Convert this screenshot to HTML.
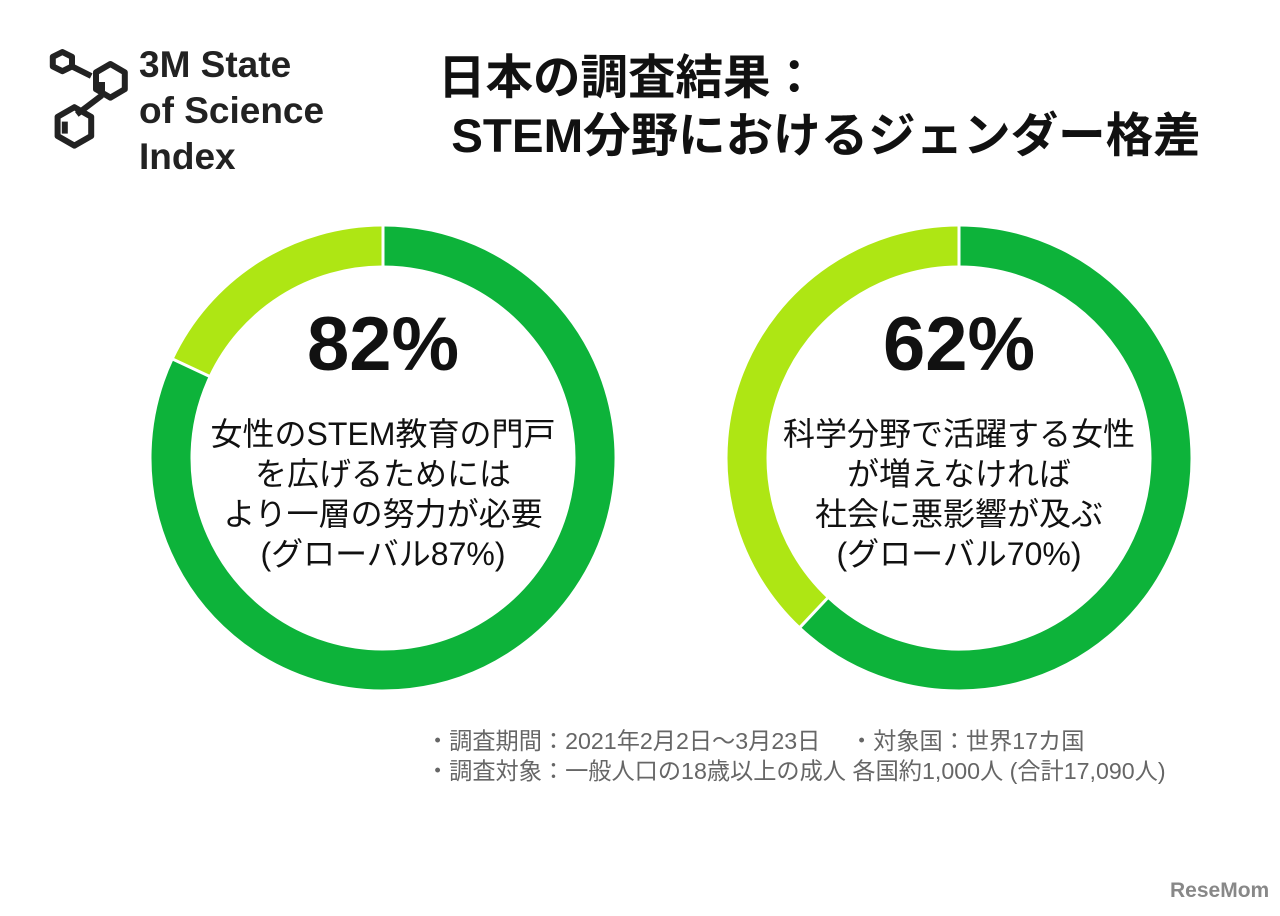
<!DOCTYPE html>
<html><head><meta charset="utf-8">
<style>
body{margin:0;width:1280px;height:916px;background:#fff;overflow:hidden;font-family:"Liberation Sans","Noto Sans CJK JP",sans-serif;position:relative}
.abs{position:absolute}
.title{left:438px;top:50px;font-size:47.5px;font-weight:bold;line-height:58px;color:#111;white-space:nowrap}
.logo-text{left:139px;top:42px;font-size:37px;font-weight:bold;line-height:46px;color:#222}
.note{left:426px;top:726px;font-size:23.2px;color:#666;line-height:30px;white-space:nowrap}
.wm{left:1170px;top:879px;font-size:21px;font-weight:bold;color:#888}
</style></head><body>
<svg class="abs" style="left:36px;top:40px" width="100" height="110">
<g fill="none" stroke="#222" stroke-width="5" stroke-linejoin="round" transform="scale(1.2)">
<polygon points="22,10 30,14 30,22 22,26 14,22 14,14"/>
<line x1="30" y1="22" x2="46" y2="30"/>
<polygon points="62,20 74,27 74,41 62,48 50,41 50,27"/>
<line x1="55" y1="35" x2="55" y2="44"/>
<line x1="55" y1="46" x2="34" y2="62"/>
<polygon points="32,56 46,64 46,80 32,88 18,80 18,64"/>
<line x1="24" y1="68" x2="24" y2="78"/>
</g></svg>
<div class="abs logo-text">3M State<br>of Science<br>Index</div>
<div class="abs title">日本の調査結果：<br>&nbsp;STEM分野におけるジェンダー格差</div>
<svg class="abs" style="left:0;top:0" width="1280" height="916" id="charts"></svg>
<div class="abs note">・調査期間：2021年2月2日～3月23日　 ・対象国：世界17カ国<br>・調査対象：一般人口の18歳以上の成人 各国約1,000人 (合計17,090人)</div>
<div class="abs wm">ReseMom</div>
<script>
const values=[82,62];
const labels=["82%","62%"];
const captions=[["女性のSTEM教育の門戸","を広げるためには","より一層の努力が必要","(グローバル87%)"],["科学分野で活躍する女性","が増えなければ","社会に悪影響が及ぶ","(グローバル70%)"]];
const centers=[[383,458],[959,458]];
const svg=document.getElementById('charts');
const NS='http://www.w3.org/2000/svg';
const R=212,SW=39;
function pt(cx,cy,f){const a=f*2*Math.PI-Math.PI/2;return [cx+R*Math.cos(a),cy+R*Math.sin(a)];}
function arc(cx,cy,f0,f1,color,name){
 const p=document.createElementNS(NS,'path');
 const [x0,y0]=pt(cx,cy,f0),[x1,y1]=pt(cx,cy,f1);
 const large=(f1-f0)>0.5?1:0;
 p.setAttribute('d',`M${x0},${y0} A${R},${R} 0 ${large} 1 ${x1},${y1}`);
 p.setAttribute('fill','none');p.setAttribute('stroke',color);p.setAttribute('stroke-width',SW);
 
 
 svg.appendChild(p);
}
function sep(cx,cy,f){
 const a=f*2*Math.PI-Math.PI/2;
 const l=document.createElementNS(NS,'line');
 l.setAttribute('x1',cx+(R-SW/2-2)*Math.cos(a));l.setAttribute('y1',cy+(R-SW/2-2)*Math.sin(a));
 l.setAttribute('x2',cx+(R+SW/2+2)*Math.cos(a));l.setAttribute('y2',cy+(R+SW/2+2)*Math.sin(a));
 l.setAttribute('stroke','#fff');l.setAttribute('stroke-width',3);
 
 
 svg.appendChild(l);
}
values.forEach((v,i)=>{
 const [cx,cy]=centers[i];const f=v/100;
 arc(cx,cy,0,f,'#0db33a','donut-agree-'+(i+1));
 arc(cx,cy,f,1,'#aee614','donut-rest-'+(i+1));
 sep(cx,cy,0);sep(cx,cy,f);
 const t=document.createElementNS(NS,'text');
 t.setAttribute('x',cx);t.setAttribute('y',cy-88);t.setAttribute('text-anchor','middle');
 t.setAttribute('font-size','76');t.setAttribute('font-weight','bold');t.setAttribute('fill','#111');
 t.textContent=labels[i];
 
 
 svg.appendChild(t);
 captions[i].forEach((c,j)=>{
  const s=document.createElementNS(NS,'text');
  s.setAttribute('x',cx);s.setAttribute('y',cy-13+j*40);s.setAttribute('text-anchor','middle');
  s.setAttribute('font-size','32');s.setAttribute('fill','#111');
  s.textContent=c;
  
  
  svg.appendChild(s);
 });
});
</script>
</body></html>
